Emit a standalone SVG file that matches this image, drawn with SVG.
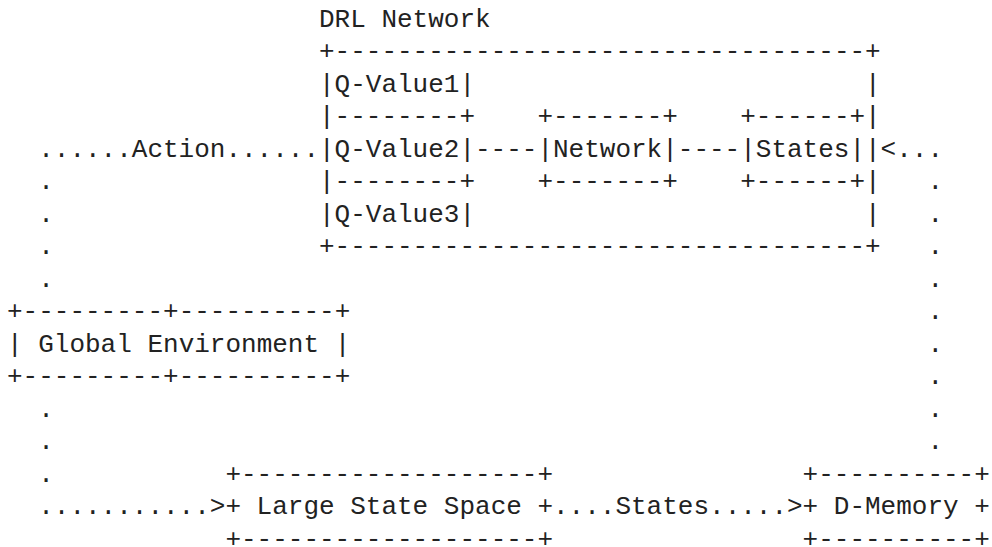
<svg xmlns="http://www.w3.org/2000/svg" width="992" height="547" viewBox="0 0 992 547" xml:space="preserve">
<style>
text{font-family:"Liberation Mono","DejaVu Sans Mono",monospace;font-size:26px;fill:#222;white-space:pre}
</style>
<rect width="992" height="547" fill="#fff"/>
<g id="drl-network">
<text x="319" y="26.5">DRL Network</text>
<text x="319" y="59">+----------------------------------+</text>
<text x="319" y="91.5">|Q-Value1|                         |</text>
<text x="319" y="124">|--------+    +-------+    +------+|</text>
<text x="319" y="156.5">|Q-Value2|</text>
<text x="537.4" y="156.5">|Network|</text>
<text x="740.2" y="156.5">|States||</text>
<text x="319" y="189">|--------+    +-------+    +------+|</text>
<text x="319" y="221.5">|Q-Value3|                         |</text>
<text x="319" y="254">+----------------------------------+</text>
</g>
<g id="global-environment">
<text x="7" y="319">+---------+----------+</text>
<text x="7" y="351.5">| Global Environment |</text>
<text x="7" y="384">+---------+----------+</text>
</g>
<g id="large-state-space">
<text x="225.4" y="481.5">+-------------------+</text>
<text x="225.4" y="514">+ Large State Space +</text>
<text x="225.4" y="546.5">+-------------------+</text>
</g>
<g id="d-memory">
<text x="802.6" y="481.5">+----------+</text>
<text x="802.6" y="514">+ D-Memory +</text>
<text x="802.6" y="546.5">+----------+</text>
</g>
<g id="connectors">
<text x="475" y="156.5">----</text>
<text x="677.8" y="156.5">----</text>
<text x="38.2" y="156.5">......Action......</text>
<text x="38.2" y="189">.</text>
<text x="38.2" y="221.5">.</text>
<text x="38.2" y="254">.</text>
<text x="38.2" y="286.5">.</text>
<text x="38.2" y="416.5">.</text>
<text x="38.2" y="449">.</text>
<text x="38.2" y="481.5">.</text>
<text x="38.2" y="514">...........&gt;</text>
<text x="553" y="514">....States.....&gt;</text>
<text x="880.6" y="156.5">&lt;...</text>
<text x="927.4" y="189">.</text>
<text x="927.4" y="221.5">.</text>
<text x="927.4" y="254">.</text>
<text x="927.4" y="286.5">.</text>
<text x="927.4" y="319">.</text>
<text x="927.4" y="351.5">.</text>
<text x="927.4" y="384">.</text>
<text x="927.4" y="416.5">.</text>
<text x="927.4" y="449">.</text>
</g>
</svg>
